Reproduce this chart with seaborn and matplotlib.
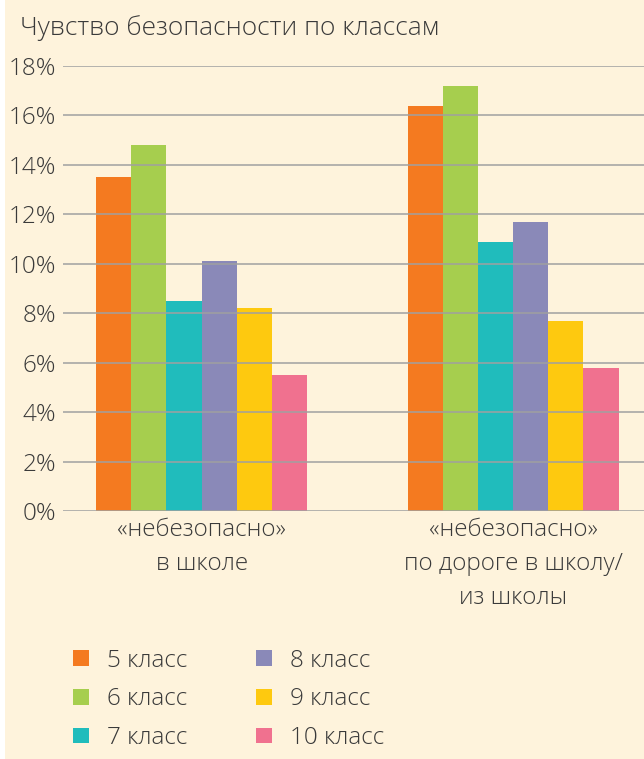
import pandas as pd
import seaborn as sns
import matplotlib.pyplot as plt
from matplotlib.patches import Rectangle
from matplotlib.ticker import FuncFormatter

# data
places = ['«небезопасно»\nв школе', '«небезопасно»\nпо дороге в школу/\nиз школы']
grades = ['5 класс', '6 класс', '7 класс', '8 класс', '9 класс', '10 класс']
at_school = [13.5, 14.8, 8.5, 10.1, 8.2, 5.5]
on_the_way = [16.4, 17.2, 10.9, 11.7, 7.7, 5.8]
colors = ['#F47A20', '#A6CE4E', '#20BCBC', '#8A89B8', '#FEC90F', '#F0718F']

df = pd.DataFrame({
    'place': [places[0]] * 6 + [places[1]] * 6,
    'grade': grades * 2,
    'value': at_school + on_the_way,
})

bg = '#FEF3DC'
txt = '#3A3A3A'
plt.rcParams.update({'font.family': ['Open Sans', 'DejaVu Sans'], 'font.size': 17.5,
                     'font.weight': 'light',
                     'text.color': txt, 'axes.labelcolor': txt,
                     'xtick.color': txt, 'ytick.color': txt})

fig = plt.figure(figsize=(6.44, 7.59), dpi=100, facecolor='white')
fig.patches.append(Rectangle((5 / 644, 0), 1, 1, transform=fig.transFigure,
                             facecolor=bg, edgecolor='none', zorder=-10))
ax = fig.add_axes([63 / 644, 1 - 511 / 759, 1 - 63 / 644, (511 - 66) / 759])
ax.set_facecolor(bg)

sns.barplot(ax=ax, data=df, x='place', y='value', hue='grade', hue_order=grades,
            palette=colors, width=0.677, saturation=1, linewidth=0)

ax.set_xlim(-0.445, 1.42)
ax.set_ylim(0, 18)
ax.set_yticks(range(0, 19, 2))
ax.yaxis.set_major_formatter(FuncFormatter(lambda v, p: f'{int(v)}%'))
ax.grid(axis='y', color='#A0A0A0', linewidth=1.1)
ax.set_axisbelow(False)
for s in ax.spines.values():
    s.set_visible(False)
ax.tick_params(length=0, pad=5)
ax.tick_params(axis='x', pad=5)
for t in ax.get_xticklabels():
    t.set_linespacing(1.55)
ax.set_xlabel('')
ax.set_ylabel('')

fig.text(20 / 644, 1 - 28 / 759, 'Чувство безопасности по классам',
         fontsize=19, va='center', ha='left')

sns.move_legend(ax, loc='upper left', bbox_to_anchor=(51 / 644, 1 - 627 / 759),
                bbox_transform=fig.transFigure, ncol=2, frameon=False, title=None,
                handlelength=0.66, handleheight=0.62, handletextpad=0.73,
                columnspacing=2.83, labelspacing=0.6, fontsize=17.5)

plt.savefig('out.png', dpi=100, facecolor=fig.get_facecolor())
